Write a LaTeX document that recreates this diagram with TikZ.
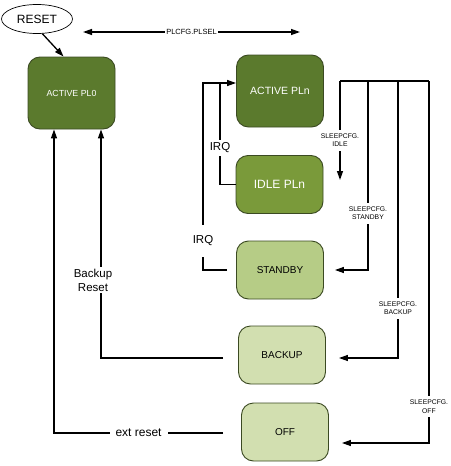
\documentclass[tikz,border=0pt]{standalone}
\usepackage{fontspec}
\setmainfont{Liberation Sans}
\usetikzlibrary{shapes.geometric}
\usetikzlibrary{calc,arrows.meta,positioning}

\definecolor{plactive}{HTML}{5B7A2D}
\definecolor{plidle}{HTML}{7A9A3A}
\definecolor{plstandby}{HTML}{B6CC86}
\definecolor{plsleep}{HTML}{D2DFB0}
\definecolor{plborder}{HTML}{3B4A22}

\begin{document}
\begin{tikzpicture}[x=1pt,y=-1pt,>={Triangle[length=9pt,width=6pt]},
  state/.style={draw=plborder, line width=0.9pt, rounded corners=12pt, minimum width=87pt, minimum height=58pt, font=\fontsize{10}{12}\selectfont},
  link/.style={line width=1.3pt},
  arr/.style={link,->},
  tag/.style={fill=white, inner xsep=1pt, inner ysep=4pt, align=center, font=\fontsize{6.8}{8.3}\selectfont}]

\useasboundingbox (0,0) rectangle (450,466);

\node [ellipse, draw, line width=0.7pt, minimum width=71pt, minimum height=29pt, font=\fontsize{12}{14}\selectfont] (reset) at (37,19) {RESET};
\node [state, fill=plactive, text=white, minimum height=72pt, font=\fontsize{8.8}{10}\selectfont] (pl0) at (71.5,93) {ACTIVE PL0};
\node [state, fill=plactive, text=white, minimum height=72pt, font=\fontsize{10.5}{12}\selectfont] (pln) at (280,91) {ACTIVE PLn};
\node [state, fill=plidle, text=white, font=\fontsize{12}{14}\selectfont] (idle) at (279.5,184.5) {IDLE PLn};
\node [state, fill=plstandby] (standby) at (280,270) {STANDBY};
\node [state, fill=plsleep] (backup) at (282,355) {BACKUP};
\node [state, fill=plsleep] (off) at (285,432) {OFF};

\draw[arr] (reset.-70) -- ([xshift=-8pt]pl0.north);

\coordinate [] (selL) at (83,32);
\coordinate [] (selR) at (300,32);
\draw[link,<->] (selL) -- node[tag, inner ysep=1pt, font=\fontsize{7.5}{9}\selectfont] (plsel) {PLCFG.PLSEL} (selR);

% wake up
\coordinate [] (irqtop) at (203,83);
\coordinate [] (irqjoin) at (220,83);
\draw[arr] ([xshift=-9pt]standby.west) -| (irqtop) -- ([yshift=8pt]pln.west);
\draw[link] (idle.west) -| (irqjoin);
\node[tag, font=\fontsize{11.5}{13}\selectfont, inner ysep=11pt] (irqsb) at (203,241) {IRQ};
\node[tag, font=\fontsize{11.5}{13}\selectfont, inner ysep=3pt] (irqidle) at (220,148) {IRQ};

% sleep modes
\coordinate [] (busL) at (340,81);
\coordinate [] (busA) at (368,81);
\coordinate [] (busB) at (398,81);
\coordinate [] (busR) at (429,81);
\coordinate [] (idleIn) at (340,180);
\draw[link] (busL) -- (busR);
\draw[arr] (busL) -- node[tag, pos=0.6] (slpidle) {SLEEPCFG.\\IDLE} (idleIn);
\draw[arr] (busA) |- node[tag, pos=0.35] (slpstandby) {SLEEPCFG.\\STANDBY} ([xshift=11pt]standby.east);
\draw[arr] (busB) |- node[tag, pos=0.41] (slpbackup) {SLEEPCFG.\\BACKUP} ([xshift=13pt,yshift=-3pt]backup.east);
\draw[arr] (busR) |- node[tag, pos=0.45] (slpoff) {SLEEPCFG.\\OFF} ([xshift=13pt,yshift=-11pt]off.east);

% resets
\draw[arr] ([xshift=-15pt,yshift=-3pt]backup.west) -| ([xshift=29.5pt]pl0.south);
\node[tag, inner ysep=2pt, font=\fontsize{11.5}{14}\selectfont] (bkreset) at (93,280) {Backup\\Reset};
\draw[arr] ([xshift=-18pt,yshift=-1pt]off.west) -| node[tag, pos=0.25, inner xsep=6pt, font=\fontsize{12}{14}\selectfont] (extreset) {ext reset} ([xshift=-17.5pt]pl0.south);

\end{tikzpicture}
\end{document}
